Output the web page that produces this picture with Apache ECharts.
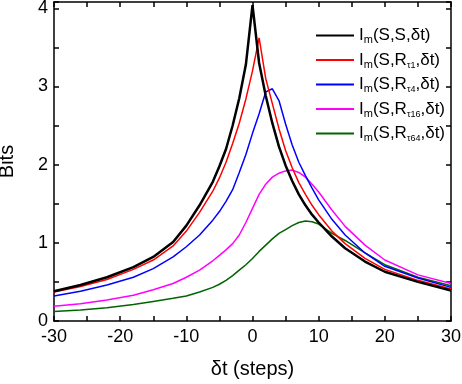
<!DOCTYPE html>
<html>
<head>
<meta charset="utf-8">
<script src="https://cdn.jsdelivr.net/npm/echarts@6/dist/echarts.min.js"></script>
<style>
  html, body { margin: 0; padding: 0; background: #fff; }
  #chart { width: 462px; height: 384px; }
</style>
</head>
<body>
<div id="chart"></div>
<script>
// time shift (steps)
const steps = [-30, -26, -22, -18, -15, -12, -10, -8, -6, -5, -4, -3, -2, -1, 0, 1, 2, 3, 4, 5, 6, 7, 8, 9, 10, 12, 14, 17, 20, 25, 30]
// I_m(S,S,dt)
const selfInfo = [0.38, 0.46, 0.56, 0.69, 0.82, 1.01, 1.22, 1.48, 1.78, 1.98, 2.2, 2.5, 2.85, 3.28, 4.04, 3.3, 2.88, 2.53, 2.23, 1.99, 1.79, 1.62, 1.48, 1.36, 1.26, 1.08, 0.93, 0.76, 0.63, 0.5, 0.39]
// I_m(S,R_tau1,dt)
const tau1 = [0.37, 0.44, 0.53, 0.66, 0.78, 0.96, 1.15, 1.39, 1.66, 1.83, 2.03, 2.27, 2.53, 2.84, 3.2, 3.62, 3.1, 2.78, 2.46, 2.18, 1.96, 1.77, 1.62, 1.48, 1.36, 1.15, 0.99, 0.8, 0.66, 0.52, 0.41]
// I_m(S,R_tau4,dt)
const tau4 = [0.32, 0.38, 0.46, 0.56, 0.67, 0.82, 0.95, 1.1, 1.29, 1.4, 1.53, 1.68, 1.9, 2.13, 2.4, 2.65, 2.93, 2.97, 2.82, 2.52, 2.25, 2.03, 1.86, 1.7, 1.55, 1.3, 1.1, 0.87, 0.7, 0.55, 0.43]
// I_m(S,R_tau16,dt)
const tau16 = [0.19, 0.22, 0.27, 0.33, 0.4, 0.48, 0.56, 0.65, 0.77, 0.84, 0.91, 0.99, 1.1, 1.26, 1.44, 1.62, 1.75, 1.84, 1.89, 1.92, 1.93, 1.9, 1.84, 1.75, 1.65, 1.42, 1.21, 0.97, 0.78, 0.59, 0.48]
// I_m(S,R_tau64,dt)
const tau64 = [0.12, 0.14, 0.17, 0.21, 0.25, 0.29, 0.32, 0.37, 0.43, 0.47, 0.52, 0.58, 0.65, 0.72, 0.8, 0.89, 0.97, 1.05, 1.12, 1.17, 1.22, 1.26, 1.28, 1.27, 1.24, 1.12, 1.03, 0.87, 0.72, 0.56, 0.45]

const seriesNames = ['ss', 't1', 't4', 't16', 't64']
const seriesValues = [selfInfo, tau1, tau4, tau16, tau64]
const colors = ['#000000', '#ff0000', '#0000ff', '#ff00ff', '#006400']
const widths = [2.5, 1.5, 1.5, 1.5, 1.5]
// legend text with subscripts
const legendLabels = {
  ss: '{a|I}{s|m}{a|(S,S,δt)}',
  t1: '{a|I}{s|m}{a|(S,R}{t|τ1}{a|,δt)}',
  t4: '{a|I}{s|m}{a|(S,R}{t|τ4}{a|,δt)}',
  t16: '{a|I}{s|m}{a|(S,R}{t|τ16}{a|,δt)}',
  t64: '{a|I}{s|m}{a|(S,R}{t|τ64}{a|,δt)}'
}

const font = 'Liberation Sans, Arial, sans-serif'
const tickStyle = { color: '#000', width: 1.5 }

function frameAxis(extra) {
  return Object.assign({
    type: 'value',
    axisLine: { show: true, onZero: false, lineStyle: { color: '#000', width: 1.5 } },
    axisTick: { show: true, inside: true, length: 5, lineStyle: tickStyle },
    minorTick: { show: true, splitNumber: 2, length: 5, lineStyle: tickStyle },
    splitLine: { show: false },
    minorSplitLine: { show: false }
  }, extra)
}

const chart = echarts.init(document.getElementById('chart'))
chart.setOption({
  backgroundColor: '#fff',
  animation: false,
  grid: { left: 54, right: 11, top: 2, bottom: 63, outerBoundsMode: 'none' },
  legend: {
    orient: 'vertical',
    left: 310,
    top: 22,
    itemWidth: 38,
    itemHeight: 14,
    itemGap: 6,
    data: seriesNames,
    itemStyle: { opacity: 0 },
    formatter: name => legendLabels[name],
    textStyle: {
      rich: {
        a: { fontSize: 17, fontFamily: font, color: '#000', lineHeight: 20 },
        s: { fontSize: 11, fontFamily: font, color: '#000', lineHeight: 5, verticalAlign: 'bottom' },
        t: { fontSize: 9, fontFamily: font, color: '#000', lineHeight: 4, verticalAlign: 'bottom' }
      }
    }
  },
  xAxis: [
    frameAxis({
      position: 'bottom',
      min: -30, max: 30, interval: 10,
      name: 'δt (steps)',
      nameLocation: 'middle',
      nameGap: 38,
      nameTextStyle: { fontSize: 20, fontFamily: font, color: '#000' },
      axisLabel: { fontSize: 18, fontFamily: font, color: '#000', margin: 7 }
    }),
    frameAxis({
      position: 'top',
      min: -30, max: 30, interval: 10,
      axisLabel: { show: false }
    })
  ],
  yAxis: [
    frameAxis({
      position: 'left',
      min: 0, max: 4.08, interval: 1,
      name: 'Bits',
      nameLocation: 'middle',
      nameGap: 37,
      nameTextStyle: { fontSize: 20, fontFamily: font, color: '#000' },
      axisLabel: {
        fontSize: 18, fontFamily: font, color: '#000', margin: 6,
        formatter: v => (Math.abs(v - Math.round(v)) < 1e-6 ? String(Math.round(v)) : '')
      }
    }),
    frameAxis({
      position: 'right',
      min: 0, max: 4.08, interval: 1,
      axisLabel: { show: false }
    })
  ],
  series: seriesNames.map((name, i) => ({
    name: name,
    type: 'line',
    symbol: 'none',
    smooth: false,
    z: 10 - i,
    lineStyle: { color: colors[i], width: widths[i] },
    itemStyle: { color: colors[i] },
    data: steps.map((x, j) => [x, seriesValues[i][j]])
  }))
})
</script>
</body>
</html>
